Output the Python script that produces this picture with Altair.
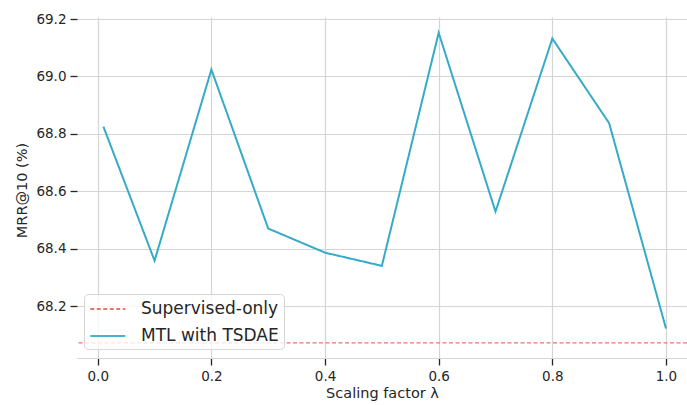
import altair as alt
import pandas as pd

scaling = [0.01, 0.1, 0.2, 0.3, 0.4, 0.5, 0.6, 0.7, 0.8, 0.9, 1.0]
mrr = [68.825, 68.358, 69.024, 68.470, 68.386, 68.340, 69.152, 68.529, 69.132, 68.837, 68.122]
supervised_only = 68.072
series_names = ["Supervised-only", "MTL with TSDAE"]
colors = ["#e5685d", "#36abc8"]
dashes = [[4, 2.5], [1, 0]]
x_ticks = [0.0, 0.2, 0.4, 0.6, 0.8, 1.0]
y_ticks = [68.2, 68.4, 68.6, 68.8, 69.0, 69.2]

df = pd.DataFrame({"x": scaling, "y": mrr, "series": series_names[1]})
hdf = pd.DataFrame({"y": [supervised_only], "series": [series_names[0]]})

FONT = "DejaVu Sans"
W, H = 610, 341

xscale = alt.Scale(domain=[-0.0365, 1.037], nice=False, zero=False)
yscale = alt.Scale(domain=[68.019, 69.207], nice=False, zero=False)
color = alt.Color("series:N", scale=alt.Scale(domain=series_names, range=colors),
                  legend=alt.Legend(title=None, orient="none", legendX=7, legendY=277,
                                    symbolType="M-1,0H3", symbolSize=306, symbolStrokeWidth=2,
                                    labelFontSize=17, labelFont=FONT, labelColor="#262626",
                                    padding=5, rowPadding=9, labelOffset=32,
                                    strokeColor="#d6d6d6", fillColor="rgba(255,255,255,0.8)",
                                    cornerRadius=4))
dash = alt.StrokeDash("series:N", scale=alt.Scale(domain=series_names, range=dashes), legend=None)

line = alt.Chart(df).mark_line(strokeWidth=2, clip=True).encode(
    x=alt.X("x:Q", scale=xscale,
            axis=alt.Axis(title="Scaling factor λ", values=x_ticks, format=".1f",
                          titleX=305, titleY=35, titleBaseline="middle")),
    y=alt.Y("y:Q", scale=yscale,
            axis=alt.Axis(title="MRR@10 (%)", values=y_ticks, format=".1f",
                          titleX=-55, titleY=173, titleAngle=270, titleBaseline="middle",
                          titleAlign="center")),
    color=color,
    strokeDash=dash,
)

rule = alt.Chart(hdf).mark_rule(strokeWidth=1.3, opacity=0.9).encode(
    y=alt.Y("y:Q", scale=yscale),
    color=color,
    strokeDash=dash,
)

chart = alt.layer(rule, line).properties(
    width=W, height=H,
    autosize=alt.AutoSizeParams(type="none"),
    padding={"left": 77, "top": 17, "right": 0, "bottom": 47},
).configure_view(stroke=None).configure_axis(
    labelFont=FONT, titleFont=FONT, labelFontSize=13.5, titleFontSize=14.5,
    labelColor="#262626", titleColor="#262626", titleFontWeight="normal",
    gridColor="#d5d5d5", gridWidth=1.2, tickColor="#262626", tickSize=7, tickWidth=1.3,
    labelPadding=4,
).configure_axisX(domain=True, domainColor="#d5d5d5", domainWidth=1.2
).configure_axisY(domain=False)

chart.save("out.html", embed_options={"renderer": "svg", "actions": False})
